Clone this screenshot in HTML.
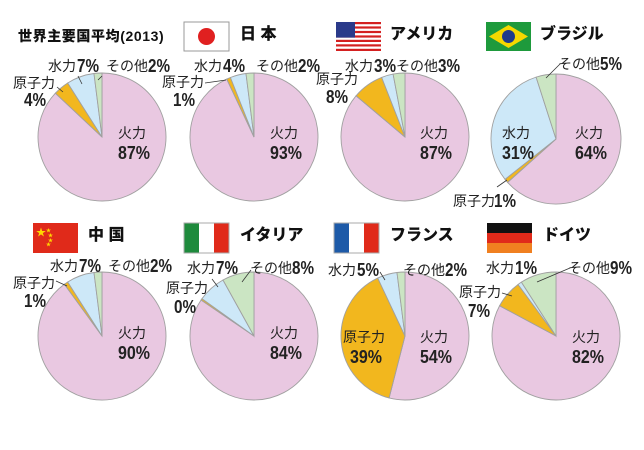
<!DOCTYPE html>
<html><head><meta charset="utf-8">
<style>
html,body{margin:0;padding:0;background:#fff;}
svg{display:block;font-family:"Liberation Sans","Noto Sans CJK JP",sans-serif;}
.l{font-size:14px;fill:#222;}
.p{font-size:18px;fill:#222;font-weight:bold;}
.t{font-size:16px;font-weight:900;fill:#111;}
.ld{stroke:#333;stroke-width:0.8;fill:none;}
</style></head><body>
<svg id="s" width="644" height="450" viewBox="0 0 644 450">
<rect width="644" height="450" fill="#fff"/>
<g id="pies"></g>
<text x="18" y="41" style="font-size:14px;font-weight:900;fill:#111;letter-spacing:0.6px">世界主要国平均(2013)</text>
<rect x="184" y="22" width="45" height="29" fill="#fff" stroke="#999"/>
<circle cx="206.5" cy="36.5" r="8.5" fill="#e02020"/>
<text class="t" x="240" y="39">日 本</text>
<g transform="translate(336,22)">
<rect width="45" height="29" fill="#fff"/>
<g fill="#d42020"><rect y="0" width="45" height="2.2"/><rect y="4.4" width="45" height="2.2"/><rect y="8.9" width="45" height="2.2"/><rect y="13.4" width="45" height="2.2"/><rect y="17.8" width="45" height="2.2"/><rect y="22.3" width="45" height="2.2"/><rect y="26.8" width="45" height="2.2"/></g>
<rect width="19" height="15.6" fill="#2a3a8a"/>
</g>
<text class="t" x="390" y="39">アメリカ</text>
<rect x="486" y="22" width="45" height="29" fill="#1e9a3c"/>
<polygon points="508.5,25 528,36.5 508.5,48 489,36.5" fill="#f5d800"/>
<circle cx="508.5" cy="36.5" r="6.5" fill="#1d3b8c"/>
<text class="t" x="540" y="39">ブラジル</text>
<rect x="33" y="223" width="45" height="30" fill="#e02a1a"/>
<text x="36" y="236" style="font-size:10px;fill:#ffd800">★</text>
<text x="46" y="232" style="font-size:5px;fill:#ffd800">★</text>
<text x="48" y="237" style="font-size:5px;fill:#ffd800">★</text>
<text x="48" y="242" style="font-size:5px;fill:#ffd800">★</text>
<text x="46" y="246" style="font-size:5px;fill:#ffd800">★</text>
<text class="t" x="88" y="240">中 国</text>
<rect x="184" y="223" width="15" height="30" fill="#1e8a3c"/>
<rect x="199" y="223" width="15" height="30" fill="#fff"/>
<rect x="214" y="223" width="15" height="30" fill="#e02a1a"/>
<rect x="184" y="223" width="45" height="30" fill="none" stroke="#aaa"/>
<text class="t" x="240" y="240">イタリア</text>
<rect x="334" y="223" width="15" height="30" fill="#1d5aa8"/>
<rect x="349" y="223" width="15" height="30" fill="#fff"/>
<rect x="364" y="223" width="15" height="30" fill="#e02a1a"/>
<rect x="334" y="223" width="45" height="30" fill="none" stroke="#aaa"/>
<text class="t" x="390" y="240">フランス</text>
<rect x="487" y="223" width="45" height="10" fill="#111"/>
<rect x="487" y="233" width="45" height="10" fill="#e02a1a"/>
<rect x="487" y="243" width="45" height="10" fill="#f08020"/>
<text class="t" x="543" y="240">ドイツ</text>

<g id="labels">
<text class="l" x="48" y="71">水力</text><text class="p" x="77" y="72" textLength="22">7%</text>
<text class="l" x="106" y="71">その他</text><text class="p" x="148" y="72" textLength="22">2%</text>
<text class="l" x="13" y="88">原子力</text><text class="p" x="24" y="106" textLength="22">4%</text>
<line class="ld" x1="57" y1="87" x2="63" y2="92"/><line class="ld" x1="78" y1="76" x2="82" y2="84"/><line class="ld" x1="102" y1="76" x2="98" y2="80"/>
<text class="l" x="118" y="138">火力</text><text class="p" x="118" y="159" textLength="32">87%</text>
<text class="l" x="194" y="71">水力</text><text class="p" x="223" y="72" textLength="22">4%</text>
<text class="l" x="256" y="71">その他</text><text class="p" x="298" y="72" textLength="22">2%</text>
<text class="l" x="162" y="87">原子力</text><text class="p" x="173" y="106" textLength="22">1%</text>
<line class="ld" x1="205" y1="83" x2="226" y2="80"/>
<text class="l" x="270" y="138">火力</text><text class="p" x="270" y="159" textLength="32">93%</text>
<text class="l" x="345" y="71">水力</text><text class="p" x="374" y="72" textLength="22">3%</text>
<text class="l" x="396" y="71">その他</text><text class="p" x="438" y="72" textLength="22">3%</text>
<text class="l" x="316" y="84">原子力</text><text class="p" x="326" y="103" textLength="22">8%</text>
<text class="l" x="420" y="138">火力</text><text class="p" x="420" y="159" textLength="32">87%</text>
<text class="l" x="558" y="69">その他</text><text class="p" x="600" y="70" textLength="22">5%</text>
<line class="ld" x1="560" y1="64" x2="546" y2="78"/>
<text class="l" x="502" y="138">水力</text><text class="p" x="502" y="159" textLength="32">31%</text>
<text class="l" x="575" y="138">火力</text><text class="p" x="575" y="159" textLength="32">64%</text>
<text class="l" x="453" y="206">原子力</text><text class="p" x="494" y="207" textLength="22">1%</text>
<line class="ld" x1="497" y1="187" x2="507" y2="180"/>
<text class="l" x="50" y="271">水力</text><text class="p" x="79" y="272" textLength="22">7%</text>
<text class="l" x="108" y="271">その他</text><text class="p" x="150" y="272" textLength="22">2%</text>
<text class="l" x="13" y="288">原子力</text><text class="p" x="24" y="307" textLength="22">1%</text>
<line class="ld" x1="56" y1="281" x2="67" y2="286"/>
<text class="l" x="118" y="338">火力</text><text class="p" x="118" y="359" textLength="32">90%</text>
<text class="l" x="187" y="273">水力</text><text class="p" x="216" y="274" textLength="22">7%</text>
<text class="l" x="250" y="273">その他</text><text class="p" x="292" y="274" textLength="22">8%</text>
<text class="l" x="166" y="293">原子力</text><text class="p" x="174" y="313" textLength="22">0%</text>
<line class="ld" x1="212" y1="279" x2="218" y2="287"/><line class="ld" x1="251" y1="270" x2="242" y2="282"/>
<text class="l" x="270" y="338">火力</text><text class="p" x="270" y="359" textLength="32">84%</text>
<text class="l" x="328" y="275">水力</text><text class="p" x="357" y="276" textLength="22">5%</text>
<text class="l" x="403" y="275">その他</text><text class="p" x="445" y="276" textLength="22">2%</text>
<line class="ld" x1="380" y1="272" x2="385" y2="280"/>
<text class="l" x="343" y="342">原子力</text><text class="p" x="350" y="363" textLength="32">39%</text>
<text class="l" x="420" y="342">火力</text><text class="p" x="420" y="363" textLength="32">54%</text>
<text class="l" x="486" y="273">水力</text><text class="p" x="515" y="274" textLength="22">1%</text>
<text class="l" x="568" y="273">その他</text><text class="p" x="610" y="274" textLength="22">9%</text>
<line class="ld" x1="570" y1="268" x2="537" y2="282"/>
<text class="l" x="459" y="297">原子力</text><text class="p" x="468" y="317" textLength="22">7%</text>
<line class="ld" x1="502" y1="293" x2="512" y2="296"/>
<text class="l" x="572" y="342">火力</text><text class="p" x="572" y="363" textLength="32">82%</text>
</g>
</svg>
<script>
document.querySelectorAll("text.p").forEach(function(t){t.setAttribute("lengthAdjust","spacingAndGlyphs");});
var pies=[
[102,137,64,[87,4,7,2]],[254,137,64,[93,1,4,2]],[405,137,64,[87,8,3,3]],[556,139,65,[64,1,31,5]],
[102,336,64,[90,1,7,2]],[254,336,64,[84,0.4,7,8]],[405,336,64,[54,39,5,2]],[556,336,64,[82,7,1,9]]];
var cols=["#e9c8e1","#f2b71e","#cde8f8","#cbe5c3"];
var g=document.getElementById("pies"),h="";
pies.forEach(function(p){
 var cx=p[0],cy=p[1],r=p[2],v=p[3],tot=v.reduce(function(a,b){return a+b},0),a=0;
 v.forEach(function(x,i){
  var a0=a/tot*2*Math.PI,a1=(a+x)/tot*2*Math.PI;a+=x;
  var x0=cx+r*Math.sin(a0),y0=cy-r*Math.cos(a0),x1=cx+r*Math.sin(a1),y1=cy-r*Math.cos(a1);
  var lg=(a1-a0)>Math.PI?1:0;
  h+='<path d="M'+cx+','+cy+' L'+x0.toFixed(2)+','+y0.toFixed(2)+' A'+r+','+r+' 0 '+lg+' 1 '+x1.toFixed(2)+','+y1.toFixed(2)+' Z" fill="'+cols[i]+'" stroke="#a0a0a0" stroke-width="0.9"/>';
 });
});
g.innerHTML=h;
</script>
</body></html>
